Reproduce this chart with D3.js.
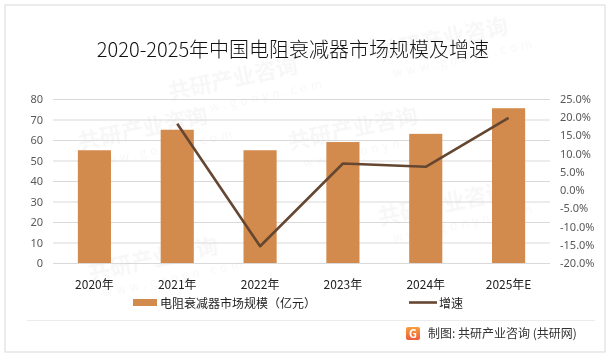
<!DOCTYPE html>
<html><head><meta charset="utf-8">
<script src="https://cdn.jsdelivr.net/npm/d3@7"></script>
<style>
html,body{margin:0;padding:0;background:#fff;}
svg{display:block;font-family:"Noto Sans CJK SC","Noto Sans",sans-serif;}
</style></head>
<body><svg id="c" width="611" height="358"></svg>
<script>
const title = "2020-2025年中国电阻衰减器市场规模及增速";
const years = ["2020年","2021年","2022年","2023年","2024年","2025年E"];
const marketSize = [55, 65, 55, 59, 63, 75.5];
const growthRate = [null, 18.2, -15.4, 7.3, 6.4, 19.8];
const leftTicks = [0,10,20,30,40,50,60,70,80];
const rightTicks = [-20,-15,-10,-5,0,5,10,15,20,25];
const legendBar = "电阻衰减器市场规模（亿元）";
const legendLine = "增速";
const source = "制图: 共研产业咨询 (共研网)";

const svg = d3.select("#c");
const pTop = 99, pBottom = 263, pLeft = 53, pRight = 550;
const barColor = "#D38B4D", lineColor = "#654631";

svg.append("rect").attr("x",5).attr("y",5).attr("width",600).attr("height",347)
  .attr("fill","#fff").attr("stroke","#d9d9d9").attr("stroke-width",1);

// watermarks (kept inside the frame)
const wm = svg.append("g").attr("opacity",0.045).attr("fill","#555").attr("font-weight",700);
[[170,100],[80,150],[290,150],[380,225],[90,280],[380,60]].forEach(([x,y])=>{
  const g = wm.append("g").attr("transform",`translate(${x},${y}) rotate(-12)`);
  g.append("text").attr("font-size",22).text("共研产业咨询");
  g.append("text").attr("y",20).attr("x",10).attr("font-size",12).attr("letter-spacing",4).attr("font-weight",400).text("www.gonyn.com");
});

svg.append("text").attr("x",293).attr("y",57).attr("text-anchor","middle")
  .attr("font-size",20).attr("font-weight",300).attr("fill","#111").text(title);

const x = d3.scaleBand().domain(years).range([pLeft,pRight]).paddingInner(0.6).paddingOuter(0.3);
const yL = d3.scaleLinear().domain([0,80]).range([pBottom,pTop]);
const yR = d3.scaleLinear().domain([-20,25]).range([pBottom,pTop]);

// grid
svg.append("g").selectAll("line").data(leftTicks).join("line")
  .attr("x1",pLeft).attr("x2",pRight).attr("y1",d=>yL(d)+0.5).attr("y2",d=>yL(d)+0.5)
  .attr("stroke","#d9d9d9").attr("stroke-width",1);

// left axis
const ax = d3.axisLeft(yL).tickValues(leftTicks).tickSize(0).tickPadding(0);
const gL = svg.append("g").attr("transform",`translate(${pLeft-10},0)`).call(ax);
gL.select(".domain").remove();
gL.selectAll("text").attr("font-size",11).attr("fill","#595959").attr("font-family","'Noto Sans',sans-serif");

// right axis
const axR = d3.axisRight(yR).tickValues(rightTicks).tickSize(0).tickPadding(0).tickFormat(d=>d.toFixed(1)+"%");
const gR = svg.append("g").attr("transform",`translate(${pRight+10},0)`).call(axR);
gR.select(".domain").remove();
gR.selectAll("text").attr("font-size",11).attr("fill","#595959").attr("font-family","'Noto Sans',sans-serif");

// bars
svg.append("g").selectAll("rect").data(marketSize).join("rect")
  .attr("x",(d,i)=>x(years[i])).attr("width",x.bandwidth())
  .attr("y",d=>yL(d)).attr("height",d=>yL(0)-yL(d)).attr("fill",barColor);

// line
const pts = growthRate.map((v,i)=>({v,i})).filter(d=>d.v!==null);
svg.append("path").datum(pts)
  .attr("d",d3.line().x(d=>x(years[d.i])+x.bandwidth()/2).y(d=>yR(d.v)))
  .attr("fill","none").attr("stroke",lineColor).attr("stroke-width",2.6).attr("stroke-linejoin","round");

// category labels
svg.append("g").selectAll("text").data(years).join("text")
  .attr("x",d=>x(d)+x.bandwidth()/2).attr("y",289).attr("text-anchor","middle")
  .attr("font-size",12).attr("fill","#222").text(d=>d);

// legend
svg.append("rect").attr("x",133).attr("y",299).attr("width",24).attr("height",7).attr("fill",barColor);
svg.append("text").attr("x",160).attr("y",307.5).attr("font-size",12).attr("fill","#222").text(legendBar);
svg.append("line").attr("x1",409).attr("x2",437).attr("y1",302.5).attr("y2",302.5).attr("stroke",lineColor).attr("stroke-width",2.6);
svg.append("text").attr("x",439).attr("y",307.5).attr("font-size",12).attr("fill","#222").text(legendLine);

// footer
svg.append("line").attr("x1",27).attr("x2",595).attr("y1",320.5).attr("y2",320.5).attr("stroke","#ececec");
const grad = svg.append("defs").append("linearGradient").attr("id","lg").attr("x1",0).attr("y1",0).attr("x2",0).attr("y2",1);
grad.append("stop").attr("offset","0%").attr("stop-color","#F9A03C");
grad.append("stop").attr("offset","100%").attr("stop-color","#EE5A3A");
svg.append("rect").attr("x",406).attr("y",327).attr("width",14).attr("height",13).attr("rx",2).attr("fill","url(#lg)");
svg.append("text").attr("x",413).attr("y",337.5).attr("text-anchor","middle").attr("font-size",11).attr("font-weight",700).attr("fill","#fff").text("G");
svg.append("text").attr("x",428).attr("y",338).attr("font-size",12).attr("fill","#333").text(source);
</script></body></html>
